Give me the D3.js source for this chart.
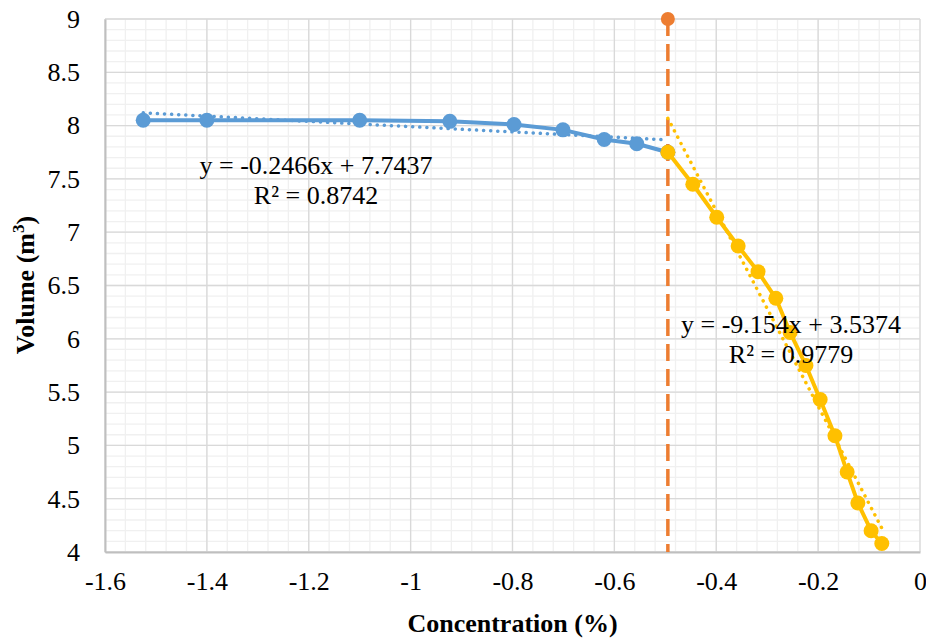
<!DOCTYPE html>
<html><head><meta charset="utf-8">
<script src="https://cdn.jsdelivr.net/npm/d3@7"></script>
<style>
body{margin:0;background:#fff}svg{display:block}
svg text{font-family:"Liberation Serif","Times New Roman","DejaVu Serif",serif !important;}
</style>
</head><body>
<svg id="c" width="926" height="639"></svg>
<script>
// ---- data ----
const blueX = [-1.525, -1.4, -1.1, -0.923, -0.797, -0.701, -0.62, -0.556, -0.495];
const blueY = [8.05, 8.05, 8.05, 8.04, 8.01, 7.96, 7.87, 7.83, 7.75];
const yellowX = [-0.495, -0.446, -0.399, -0.357, -0.318, -0.283, -0.255, -0.224, -0.196, -0.167, -0.143, -0.122, -0.096, -0.075];
const yellowY = [7.75, 7.45, 7.14, 6.87, 6.63, 6.38, 6.06, 5.75, 5.43, 5.09, 4.75, 4.46, 4.20, 4.08];
const orangeX = [-0.495, -0.495];
const orangeY = [9, 4];
const blueFit = {slope: -0.2466, intercept: 7.7437, label1: "y = -0.2466x + 7.7437", label2: "R² = 0.8742"};
const yellowFit = {slope: -9.154, intercept: 3.5374, label1: "y = -9.154x + 3.5374", label2: "R² = 0.9779"};
const xTicks = [-1.6, -1.4, -1.2, -1, -0.8, -0.6, -0.4, -0.2, 0];
const yTicks = [4, 4.5, 5, 5.5, 6, 6.5, 7, 7.5, 8, 8.5, 9];
const xTitle = "Concentration (%)";

// ---- layout ----
const L = 105, R = 920, T = 19, B = 552;
const svg = d3.select("#c");
const x = d3.scaleLinear().domain([-1.6, 0]).range([L, R]);
const y = d3.scaleLinear().domain([4, 9]).range([B, T]);
const font = "Liberation Serif";

// minor grid
const xMinor = d3.range(-1.6, 0.0001, 0.04).map(v => +v.toFixed(2));
const yMinor = d3.range(4, 9.0001, 0.1).map(v => +v.toFixed(2));
const g = svg.append("g");
g.selectAll(".xm").data(xMinor).join("line")
  .attr("x1", d => x(d)).attr("x2", d => x(d)).attr("y1", T).attr("y2", B)
  .attr("stroke", "#f0f0f0").attr("stroke-width", 1.3);
g.selectAll(".ym").data(yMinor).join("line")
  .attr("x1", L).attr("x2", R).attr("y1", d => y(d)).attr("y2", d => y(d))
  .attr("stroke", "#f0f0f0").attr("stroke-width", 1.3);
// major grid
g.selectAll(".xM").data(xTicks).join("line")
  .attr("x1", d => x(d)).attr("x2", d => x(d)).attr("y1", T).attr("y2", B)
  .attr("stroke", "#d9d9d9").attr("stroke-width", 1.3);
g.selectAll(".yM").data(yTicks).join("line")
  .attr("x1", L).attr("x2", R).attr("y1", d => y(d)).attr("y2", d => y(d))
  .attr("stroke", "#d9d9d9").attr("stroke-width", 1.3);

// axes
const xAxis = svg.append("g").attr("transform", `translate(0,${B})`)
  .call(d3.axisBottom(x).tickValues(xTicks).tickSize(0).tickPadding(20).tickFormat(d => String(d)));
const yAxis = svg.append("g").attr("transform", `translate(${L},0)`)
  .call(d3.axisLeft(y).tickValues(yTicks).tickSize(0).tickPadding(25).tickFormat(d => String(d)));
[xAxis, yAxis].forEach(a => {
  a.attr("font-family", font).attr("font-size", 26);
  a.select(".domain").attr("stroke", "#bfbfbf").attr("stroke-width", 2);
  a.selectAll("text").attr("fill", "#000");
});

// line generator
const line = d3.line().x(d => x(d[0])).y(d => y(d[1]));
const zip = (a, b) => a.map((v, i) => [v, b[i]]);

// trendlines
function trend(fit, x0, x1, color) {
  svg.append("path").datum([[x0, fit.slope * x0 + fit.intercept], [x1, fit.slope * x1 + fit.intercept]])
    .attr("d", line).attr("fill", "none").attr("stroke", color).attr("stroke-width", 3.5)
    .attr("stroke-linecap", "round").attr("stroke-dasharray", "0.1,7");
}

// orange dashed
svg.append("path").datum(zip(orangeX, orangeY)).attr("d", line)
  .attr("fill", "none").attr("stroke", "#ed7d31").attr("stroke-width", 3.5).attr("stroke-dasharray", "17,8");
svg.append("circle").attr("cx", x(orangeX[0])).attr("cy", y(orangeY[0])).attr("r", 7).attr("fill", "#ed7d31");

// blue series
svg.append("path").datum(zip(blueX, blueY)).attr("d", line)
  .attr("fill", "none").attr("stroke", "#5b9bd5").attr("stroke-width", 4).attr("stroke-linejoin", "round");
trend(blueFit, d3.min(blueX), d3.max(blueX), "#5b9bd5");
svg.selectAll(".bp").data(zip(blueX, blueY)).join("circle")
  .attr("cx", d => x(d[0])).attr("cy", d => y(d[1])).attr("r", 7.5).attr("fill", "#5b9bd5");

// yellow series
svg.append("path").datum(zip(yellowX, yellowY)).attr("d", line)
  .attr("fill", "none").attr("stroke", "#ffc000").attr("stroke-width", 4).attr("stroke-linejoin", "round");
trend(yellowFit, d3.min(yellowX), d3.max(yellowX), "#ffc000");
svg.selectAll(".yp").data(zip(yellowX, yellowY)).join("circle")
  .attr("cx", d => x(d[0])).attr("cy", d => y(d[1])).attr("r", 7.5).attr("fill", "#ffc000");

// equation labels
function eq(fit, cx, by) {
  const t = svg.append("text").attr("font-family", font).attr("font-size", 26).attr("text-anchor", "middle").attr("fill", "#000");
  t.append("tspan").attr("x", cx).attr("y", by).text(fit.label1);
  t.append("tspan").attr("x", cx).attr("y", by + 30).text(fit.label2);
}
eq(blueFit, 316, 174);
eq(yellowFit, 791, 333);

// axis titles
svg.append("text").attr("x", (L + R) / 2).attr("y", 632).attr("text-anchor", "middle")
  .attr("font-family", font).attr("font-size", 26).attr("font-weight", "bold").text(xTitle);
const yt = svg.append("text").attr("transform", `translate(34,${285}) rotate(-90)`).attr("text-anchor", "middle")
  .attr("font-family", font).attr("font-size", 26).attr("font-weight", "bold");
yt.append("tspan").text("Volume (m");
yt.append("tspan").attr("dy", -10).attr("font-size", 17).text("3");
yt.append("tspan").attr("dy", 10).text(")");
</script>
</body></html>
